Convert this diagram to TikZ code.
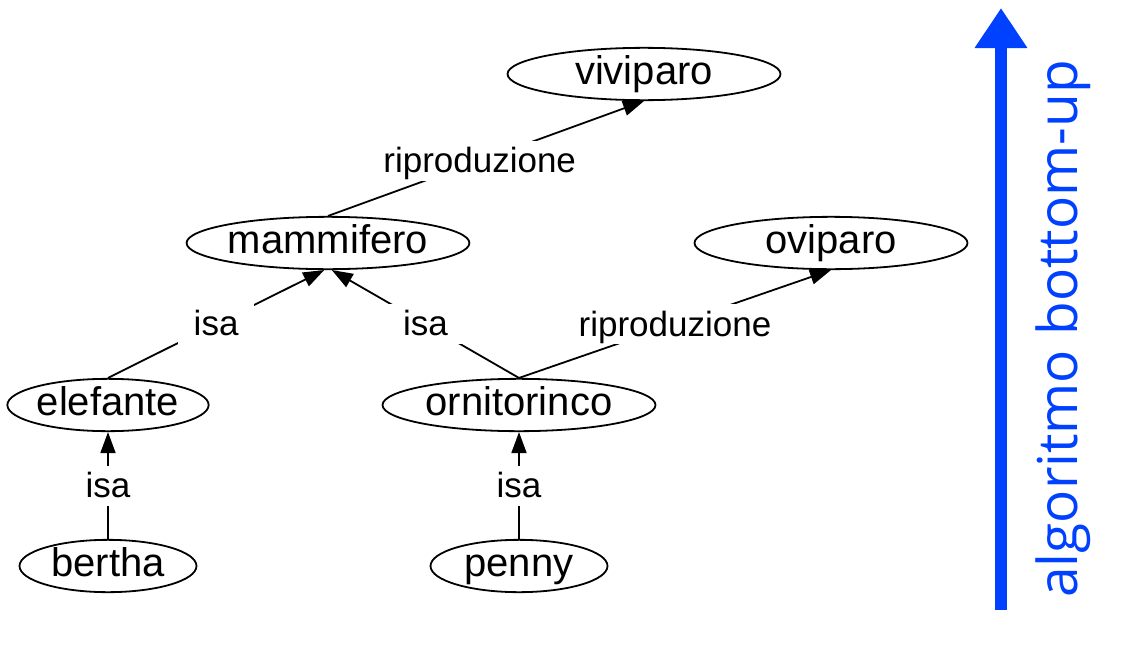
\documentclass[tikz,border=0pt]{standalone}
\usepackage{fontspec}
\setmainfont{Liberation Sans}
\newfontfamily\bluefont{Open Sans}
\usetikzlibrary{shapes.geometric,arrows.meta}
\definecolor{arrowblue}{RGB}{0,64,255}
\begin{document}
\begin{tikzpicture}[x=0.5pt,y=-0.5pt,
  concept/.style={ellipse,draw,line width=0.9pt,inner sep=0pt,minimum height=25pt,text height=14.5pt,text depth=4pt,font=\fontsize{20}{24}\selectfont},
  rel/.style={fill=white,inner xsep=8pt,inner ysep=2pt,text height=14pt,text depth=2pt,font=\fontsize{17.5}{21}\selectfont},
  link/.style={line width=0.9pt,-{Triangle[length=10.5pt,width=7.5pt]}},
  bigarrow/.style={arrowblue,line width=6pt,-{Triangle[length=20pt,width=25pt]}}]
\useasboundingbox (0,0) rectangle (1124,648);
\node[concept,minimum width=136.5pt] (viviparo) at (644,74) {viviparo};
\node[concept,minimum width=136.5pt] (mammifero) at (328,243) {mammifero};
\node[concept,minimum width=136.5pt] (oviparo) at (831,243) {oviparo};
\node[concept,minimum width=96.5pt] (elefante) at (108,405) {elefante};
\node[concept,minimum width=136.5pt] (ornitorinco) at (519,405) {ornitorinco};
\node[concept,minimum width=88.5pt] (bertha) at (108,566) {bertha};
\node[concept,minimum width=88.5pt] (penny) at (519,566) {penny};
\draw[link] (mammifero.north) -- node[rel,pos=0.48]{riproduzione} (viviparo.south);
\draw[link] (elefante.north) -- node[rel]{isa} (mammifero.262);
\draw[link] (ornitorinco.north) -- node[rel]{isa} (mammifero.278);
\draw[link] (ornitorinco.north) -- node[rel]{riproduzione} (oviparo.south);
\draw[link] (bertha.north) -- node[rel]{isa} (elefante.south);
\draw[link] (penny.north) -- node[rel]{isa} (ornitorinco.south);
\coordinate (abot) at (1001,610);
\coordinate (atop) at (1001,8);
\draw[bigarrow] (abot) -- (atop);
\node[rotate=90,text=arrowblue,font=\bluefont\fontsize{27.5}{32}\selectfont] (lbl) at (1063,329) {algoritmo bottom-up};
\end{tikzpicture}
\end{document}
